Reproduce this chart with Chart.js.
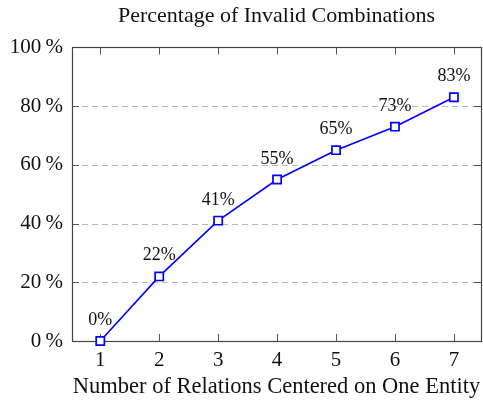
<!DOCTYPE html>
<html>
<head>
<meta charset="utf-8">
<script src="https://cdn.jsdelivr.net/npm/chart.js@4/dist/chart.umd.min.js"></script>
<style>
html,body{margin:0;padding:0;background:#fff;overflow:hidden;}
#wrap{width:483px;height:401px;}
canvas{display:block;}
</style>
</head>
<body>
<div id="wrap"><canvas id="c" width="483" height="401"></canvas></div>
<script>
const chartTitle = 'Percentage of Invalid Combinations';
const xAxisTitle = 'Number of Relations Centered on One Entity';
const relations = [1, 2, 3, 4, 5, 6, 7];
const invalidPct = [0, 22, 41, 55, 65, 73, 83];
const yTickValues = [0, 20, 40, 60, 80, 100];

const FONT = "'Liberation Serif', 'Times New Roman', serif";

const decorPlugin = {
  id: 'decor',
  beforeDatasetsDraw(chart) {
    const {ctx, chartArea: a, scales: {x, y}} = chart;
    ctx.save();
    ctx.strokeStyle = '#b8b8b8';
    ctx.lineWidth = 1;
    ctx.setLineDash([6, 4]);
    yTickValues.forEach(v => {
      if (v === 0 || v === 100) return;
      const py = Math.round(y.getPixelForValue(v)) + 0.5;
      ctx.beginPath();
      ctx.moveTo(a.left, py);
      ctx.lineTo(a.right, py);
      ctx.stroke();
    });
    ctx.setLineDash([]);
    ctx.strokeStyle = '#555';
    ctx.lineWidth = 1;
    const tl = 7;
    relations.forEach(v => {
      const px = Math.round(x.getPixelForValue(v)) + 0.5;
      ctx.beginPath();
      ctx.moveTo(px, a.bottom); ctx.lineTo(px, a.bottom - tl);
      ctx.moveTo(px, a.top); ctx.lineTo(px, a.top + tl);
      ctx.stroke();
    });
    yTickValues.forEach(v => {
      const py = Math.round(y.getPixelForValue(v)) + 0.5;
      ctx.beginPath();
      ctx.moveTo(a.left, py); ctx.lineTo(a.left + tl, py);
      ctx.moveTo(a.right, py); ctx.lineTo(a.right - tl, py);
      ctx.stroke();
    });
    ctx.strokeStyle = '#444';
    ctx.lineWidth = 1.2;
    ctx.strokeRect(Math.round(a.left) + 0.5, Math.round(a.top) + 0.5,
                   Math.round(a.right - a.left), Math.round(a.bottom - a.top));
    ctx.restore();
  },
  afterDatasetsDraw(chart) {
    const {ctx} = chart;
    const meta = chart.getDatasetMeta(0);
    ctx.save();
    ctx.fillStyle = '#111';
    ctx.font = '18px ' + FONT;
    ctx.textAlign = 'center';
    ctx.textBaseline = 'alphabetic';
    meta.data.forEach((pt, i) => {
      ctx.fillText(invalidPct[i] + '%', pt.x, pt.y - 16);
    });
    ctx.restore();
  }
};

new Chart(document.getElementById('c'), {
  type: 'line',
  data: {
    datasets: [{
      data: relations.map((r, i) => ({x: r, y: invalidPct[i]})),
      borderColor: '#0000ff',
      borderWidth: 1.6,
      backgroundColor: '#ffffff',
      pointStyle: 'rect',
      pointRadius: 5.8,
      pointBorderWidth: 1.7,
      pointBorderColor: '#0000ff',
      pointBackgroundColor: '#ffffff',
      tension: 0,
      clip: false
    }]
  },
  options: {
    responsive: false,
    animation: false,
    devicePixelRatio: 1,
    layout: {autoPadding: false, padding: {left: 0, right: 2, top: 0, bottom: 0}},
    plugins: {
      legend: {display: false},
      tooltip: {enabled: false},
      title: {
        display: true,
        text: chartTitle,
        fullSize: false,
        color: '#111',
        font: {family: FONT, size: 22, weight: 'normal', lineHeight: 1.2},
        padding: {top: 3, bottom: 18}
      }
    },
    scales: {
      x: {
        type: 'linear',
        min: 0.52,
        max: 7.46,
        afterBuildTicks: s => { s.ticks = relations.map(v => ({value: v})); },
        afterFit: s => { s.height = 60; s.paddingLeft = 0; s.paddingRight = 0; },
        grid: {display: false, drawTicks: false},
        border: {display: false},
        ticks: {
          color: '#111',
          padding: 7,
          font: {family: FONT, size: 21},
          callback: v => String(v)
        },
        title: {
          display: true,
          text: xAxisTitle,
          color: '#111',
          font: {family: FONT, size: 22.5, lineHeight: 1.2},
          padding: {top: 0, bottom: 0}
        }
      },
      y: {
        type: 'linear',
        min: 0,
        max: 100,
        afterBuildTicks: s => { s.ticks = yTickValues.map(v => ({value: v})); },
        afterFit: s => { s.width = 72; s.paddingTop = 0; s.paddingBottom = 0; },
        grid: {display: false, drawTicks: false},
        border: {display: false},
        ticks: {
          color: '#111',
          padding: 9,
          font: {family: FONT, size: 21},
          callback: v => v + '\u2009%'
        }
      }
    }
  },
  plugins: [decorPlugin]
});
</script>
</body>
</html>
